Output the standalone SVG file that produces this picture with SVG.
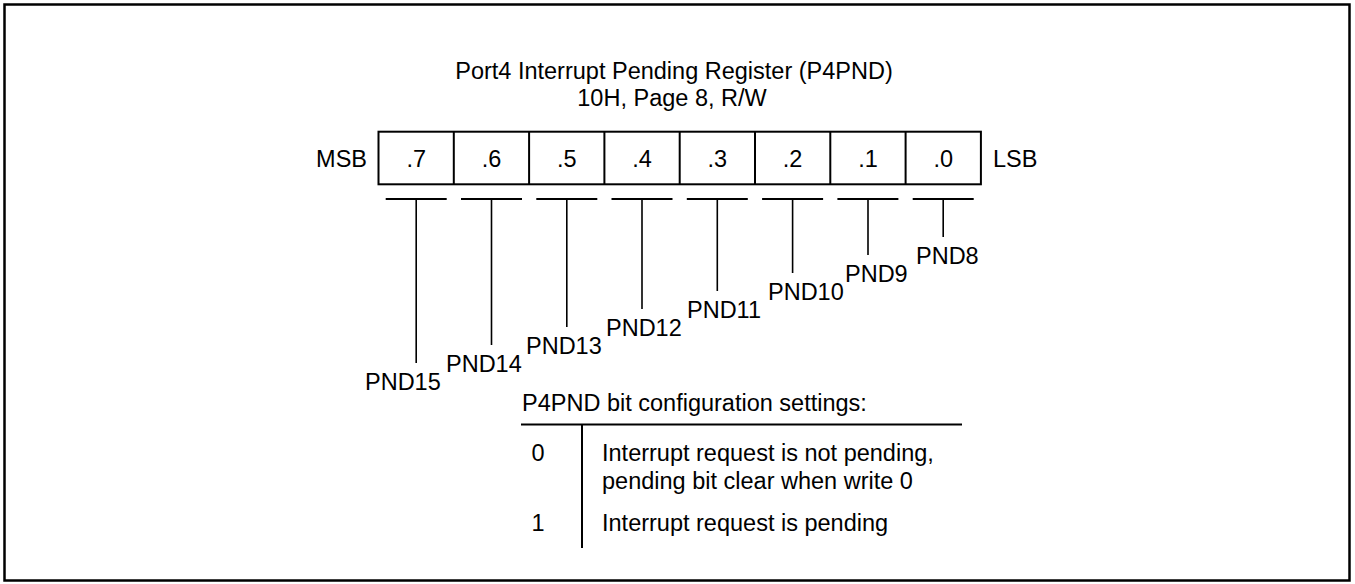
<svg xmlns="http://www.w3.org/2000/svg" width="1355" height="584" viewBox="0 0 1355 584">
<style>
text{font-family:"Liberation Sans",Arial,sans-serif;font-size:23.5px;fill:#000}
.c{text-anchor:middle}
.ln{stroke:#000;stroke-width:2;fill:none}
.st{stroke:#000;stroke-width:1.6;fill:none}
</style>
<rect x="4.5" y="4.5" width="1345" height="576" fill="#fff" stroke="#000" stroke-width="2.5"/>
<g id="title">
<text class="c" x="674" y="79">Port4 Interrupt Pending Register (P4PND)</text>
<text class="c" x="672" y="106">10H, Page 8, R/W</text>
</g>
<g id="register">
<text x="367" y="167" text-anchor="end">MSB</text>
<rect class="ln" x="378.5" y="131.7" width="602.4" height="52.6"/>
<path class="ln" d="M453.8 131.7V184.3M529.1 131.7V184.3M604.4 131.7V184.3M679.7 131.7V184.3M755 131.7V184.3M830.3 131.7V184.3M905.6 131.7V184.3"/>
<text class="c" x="416.2" y="167">.7</text>
<text class="c" x="491.5" y="167">.6</text>
<text class="c" x="566.8" y="167">.5</text>
<text class="c" x="642" y="167">.4</text>
<text class="c" x="717.3" y="167">.3</text>
<text class="c" x="792.6" y="167">.2</text>
<text class="c" x="868" y="167">.1</text>
<text class="c" x="943.2" y="167">.0</text>
<text x="993" y="167">LSB</text>
</g>
<g id="connectors">
<path class="ln" d="M385.7 199H446.7M461 199H522M536.3 199H597.3M611.5 199H672.5M686.8 199H747.8M762.1 199H823.1M837.4 199H898.4M912.7 199H973.7"/>
<path class="st" d="M416.2 199V363M491.5 199V345M566.8 199V327M642 199V309M717.3 199V291M792.6 199V273M868 199V255M943.2 199V237"/>
</g>
<g id="labels">
<text x="365" y="390">PND15</text>
<text x="446" y="372">PND14</text>
<text x="526" y="354">PND13</text>
<text x="606" y="336">PND12</text>
<text x="687" y="318">PND11</text>
<text x="768" y="300">PND10</text>
<text x="845" y="282">PND9</text>
<text x="916" y="264">PND8</text>
</g>
<g id="settings">
<text x="522" y="411">P4PND bit configuration settings:</text>
<path class="ln" d="M521 424.5H962M582 424.5V548"/>
<text class="c" x="538" y="461">0</text>
<text x="602" y="461">Interrupt request is not pending,</text>
<text x="602" y="489">pending bit clear when write 0</text>
<text class="c" x="538" y="531">1</text>
<text x="602" y="531">Interrupt request is pending</text>
</g>
</svg>
